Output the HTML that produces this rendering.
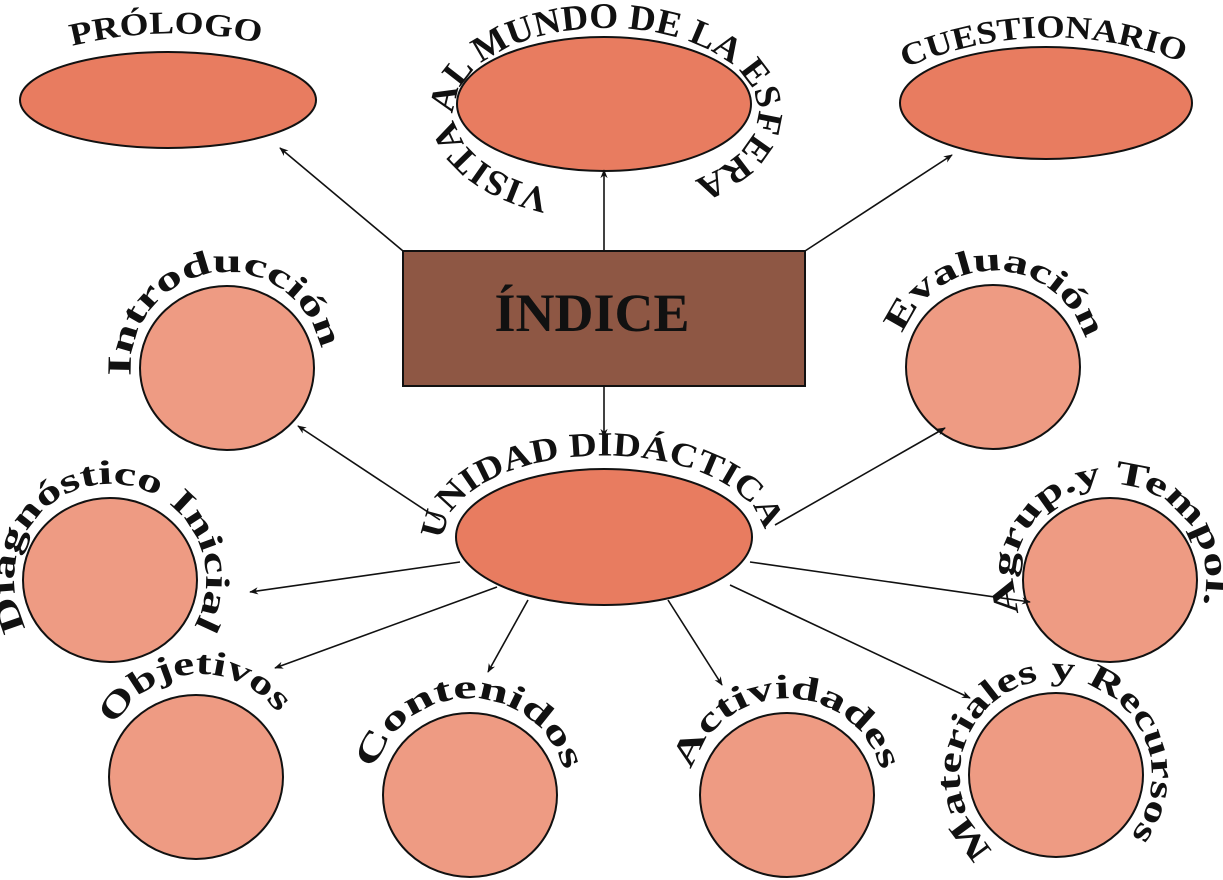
<!DOCTYPE html>
<html><head><meta charset="utf-8"><style>
html,body{margin:0;padding:0;background:#fff;}
svg{display:block;}
text{font-family:"Liberation Serif",serif;font-weight:bold;fill:#111;}
</style></head><body>
<svg width="1223" height="880" viewBox="0 0 1223 880" xmlns="http://www.w3.org/2000/svg">
<defs>
<marker id="ah" viewBox="0 0 10 10" refX="9" refY="5" markerWidth="9" markerHeight="9" orient="auto" markerUnits="userSpaceOnUse">
<path d="M0,1 L10,5 L0,9 L3,5 z" fill="#111"/></marker>
<path id="pPro" d="M72 46 Q168 22 265 44"/>
<path id="pVis" d="M550 190 A 152 84 0 1 1 662 190"/>
<path id="pCue" d="M905 68 Q1048 8 1192 66"/>
<path id="pInt" d="M131 376 A 96 96 0 1 1 275 451"/>
<path id="pEva" d="M903 334 A 96 96 0 1 1 1041 450"/>
<path id="pUni" d="M444 540 A 160 82 0 1 1 720 594"/>
<path id="pDia" d="M27 628 A 96 96 0 1 1 158 663"/>
<path id="pAgr" d="M1020 613 A 96 96 0 1 1 1158 663"/>
<path id="pObj" d="M115 726 A 96 96 0 1 1 279 825"/>
<path id="pCon" d="M375 770 A 98 98 0 1 1 555 844"/>
<path id="pAct" d="M692 770 A 98 98 0 1 1 872 844"/>
<path id="pMat" d="M994 849 A 96 96 0 1 1 1073 870"/>
</defs>

<g stroke="#111" stroke-width="2">
<ellipse cx="168" cy="100" rx="148" ry="48" fill="#E87C60"/>
<ellipse cx="604" cy="104" rx="147" ry="67" fill="#E87C60"/>
<ellipse cx="1046" cy="103" rx="146" ry="56" fill="#E87C60"/>
<rect x="403" y="251" width="402" height="135" fill="#8E5744"/>
<ellipse cx="604" cy="537" rx="148" ry="68" fill="#E87C60"/>
<ellipse cx="227" cy="368" rx="87" ry="82" fill="#EE9B83"/>
<ellipse cx="993" cy="367" rx="87" ry="82" fill="#EE9B83"/>
<ellipse cx="110" cy="580" rx="87" ry="82" fill="#EE9B83"/>
<ellipse cx="1110" cy="580" rx="87" ry="82" fill="#EE9B83"/>
<ellipse cx="196" cy="777" rx="87" ry="82" fill="#EE9B83"/>
<ellipse cx="470" cy="795" rx="87" ry="82" fill="#EE9B83"/>
<ellipse cx="787" cy="795" rx="87" ry="82" fill="#EE9B83"/>
<ellipse cx="1056" cy="775" rx="87" ry="82" fill="#EE9B83"/>
</g>

<g stroke="#111" stroke-width="1.6" fill="none" marker-end="url(#ah)">
<line x1="604" y1="250" x2="604" y2="170"/>
<line x1="403" y1="251" x2="280" y2="148"/>
<line x1="805" y1="251" x2="952" y2="155"/>
<line x1="604" y1="386" x2="604" y2="437"/>
<line x1="440" y1="520" x2="298" y2="426"/>
<line x1="775" y1="525" x2="945" y2="428"/>
<line x1="460" y1="562" x2="250" y2="592"/>
<line x1="750" y1="562" x2="1030" y2="602"/>
<line x1="497" y1="587" x2="275" y2="668"/>
<line x1="528" y1="600" x2="488" y2="672"/>
<line x1="668" y1="600" x2="722" y2="685"/>
<line x1="730" y1="585" x2="970" y2="698"/>
</g>

<text x="592" y="331" font-size="54" text-anchor="middle">ÍNDICE</text>

<text font-size="32"><textPath href="#pPro" textLength="190" lengthAdjust="spacingAndGlyphs">PRÓLOGO</textPath></text>
<text font-size="36"><textPath href="#pVis" textLength="610" lengthAdjust="spacingAndGlyphs">VISITA AL MUNDO DE LA ESFERA</textPath></text>
<text font-size="32"><textPath href="#pCue" textLength="285" lengthAdjust="spacingAndGlyphs">CUESTIONARIO</textPath></text>
<text font-size="34"><textPath href="#pInt" textLength="290" lengthAdjust="spacingAndGlyphs">Introducción</textPath></text>
<text font-size="34"><textPath href="#pEva" textLength="240" lengthAdjust="spacingAndGlyphs">Evaluación</textPath></text>
<text font-size="34"><textPath href="#pUni" textLength="385" lengthAdjust="spacingAndGlyphs">UNIDAD DIDÁCTICA</textPath></text>
<text font-size="34"><textPath href="#pDia" textLength="400" lengthAdjust="spacingAndGlyphs">Diagnóstico Inicial</textPath></text>
<text font-size="34"><textPath href="#pAgr" textLength="360" lengthAdjust="spacingAndGlyphs">Agrup.y Tempol.</textPath></text>
<text font-size="34"><textPath href="#pObj" textLength="195" lengthAdjust="spacingAndGlyphs">Objetivos</textPath></text>
<text font-size="34"><textPath href="#pCon" textLength="255" lengthAdjust="spacingAndGlyphs">Contenidos</textPath></text>
<text font-size="34"><textPath href="#pAct" textLength="255" lengthAdjust="spacingAndGlyphs">Actividades</textPath></text>
<text font-size="34"><textPath href="#pMat" textLength="450" lengthAdjust="spacingAndGlyphs">Materiales y Recursos</textPath></text>
</svg>
</body></html>
